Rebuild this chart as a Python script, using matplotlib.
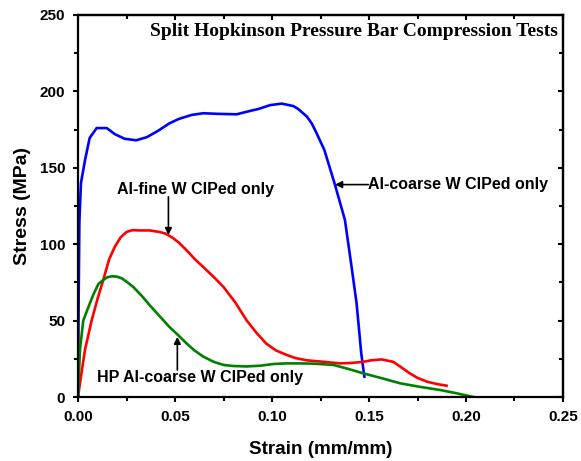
import matplotlib
matplotlib.use("Agg")
import matplotlib.pyplot as plt
from matplotlib.ticker import MultipleLocator

# Al-coarse W CIPed only (blue)
blue_strain = [0.0, 0.0003, 0.0007, 0.0015, 0.0036, 0.006, 0.0096, 0.0148, 0.019, 0.024,
               0.030, 0.0354, 0.041, 0.047, 0.052, 0.0586, 0.0646, 0.072, 0.0818, 0.087,
               0.093, 0.099, 0.105, 0.111, 0.1135, 0.118, 0.1205, 0.123, 0.127, 0.1325,
               0.1376, 0.141, 0.1436, 0.146, 0.1476]
blue_stress = [0, 60, 115, 140, 155, 169.5, 176, 176, 172, 169,
               168, 170, 174, 179, 182, 184.6, 185.7, 185.3, 185, 186.7,
               188.5, 191, 192, 190.4, 188.5, 183.5, 179, 172.6, 161.6, 138.7,
               115.8, 85.3, 61.3, 28.6, 13.3]

# Al-fine W CIPed only (red)
red_strain = [0.0, 0.001, 0.0036, 0.007, 0.010, 0.013, 0.016, 0.019, 0.022, 0.025,
              0.028, 0.032, 0.037, 0.042, 0.045, 0.049, 0.052, 0.056, 0.060, 0.0646,
              0.070, 0.075, 0.081, 0.087, 0.092, 0.097, 0.102, 0.1076, 0.112, 0.118,
              0.127, 0.135, 0.141, 0.147, 0.151, 0.1565, 0.1625, 0.166, 0.171, 0.175,
              0.18, 0.185, 0.19]
red_stress = [0, 9, 31, 50, 64, 76.6, 90, 98.4, 104.5, 108,
              109.2, 109, 109, 108, 107, 104, 101, 96, 90.5, 85,
              78.5, 72, 62, 50, 42, 35, 30.5, 27.5, 25.5, 24,
              23, 22, 22.3, 23, 24, 24.6, 23, 20, 15.5, 12.5,
              10, 8.5, 7.4]

# HP Al-coarse W CIPed only (green)
green_strain = [0.0, 0.001, 0.0027, 0.006, 0.0079, 0.0105, 0.013, 0.015, 0.0174, 0.020,
                0.0225, 0.025, 0.0285, 0.033, 0.037, 0.042, 0.047, 0.052, 0.056, 0.060,
                0.0646, 0.070, 0.075, 0.080, 0.087, 0.094, 0.1007, 0.107, 0.1144, 0.122,
                0.1316, 0.139, 0.147, 0.156, 0.166, 0.176, 0.1866, 0.195, 0.2038]
green_stress = [0, 31, 50, 61, 67, 74, 76.6, 78.3, 79, 78.8,
                77.7, 75.5, 72, 66, 60, 53, 46, 40, 35, 30.5,
                26.4, 23, 21, 20.3, 20, 20.5, 21.6, 22, 22, 21.8,
                21, 18.5, 15.5, 12.5, 9, 6.7, 4.6, 2.5, 0]

sans = "Liberation Sans"

fig = plt.figure(figsize=(5.81, 4.61), dpi=100)
ax = fig.add_axes([0.1343, 0.1388, 0.8347, 0.8287])

ax.plot(blue_strain, blue_stress, color="#0000ff", lw=1.9)
ax.plot(red_strain, red_stress, color="#ff0000", lw=1.9)
ax.plot(green_strain, green_stress, color="#008000", lw=1.9)

ax.set_xlim(0, 0.25)
ax.set_ylim(0, 250)
ax.xaxis.set_major_locator(MultipleLocator(0.05))
ax.xaxis.set_minor_locator(MultipleLocator(0.025))
ax.yaxis.set_major_locator(MultipleLocator(50))
ax.yaxis.set_minor_locator(MultipleLocator(25))
# bottom/left ticks point out, top/right ticks point in (Origin style)
ax.tick_params(which="both", direction="out", width=1.5)
ax.tick_params(which="major", length=3.8, pad=5.5)
ax.tick_params(which="minor", length=2.6)
ax.set_xticklabels([f"{v:.2f}" for v in ax.get_xticks()], fontfamily=sans,
                   fontweight="bold", fontsize=11)
ax.set_yticklabels([f"{int(v)}" for v in ax.get_yticks()], fontfamily=sans,
                   fontweight="bold", fontsize=11)

top = ax.secondary_xaxis("top")
top.xaxis.set_major_locator(MultipleLocator(0.05))
top.xaxis.set_minor_locator(MultipleLocator(0.025))
top.tick_params(which="both", direction="in", width=1.5, labeltop=False)
top.tick_params(which="major", length=3.8)
top.tick_params(which="minor", length=2.6)
right = ax.secondary_yaxis("right")
right.yaxis.set_major_locator(MultipleLocator(50))
right.yaxis.set_minor_locator(MultipleLocator(25))
right.tick_params(which="both", direction="in", width=1.5, labelright=False)
right.tick_params(which="major", length=3.8)
right.tick_params(which="minor", length=2.6)

for s in list(ax.spines.values()) + [top.spines["top"], right.spines["right"]]:
    s.set_linewidth(1.6)

ax.set_xlabel("Strain (mm/mm)", fontfamily=sans, fontweight="bold", fontsize=13.6, labelpad=12)
ax.set_ylabel("Stress (MPa)", fontfamily=sans, fontweight="bold", fontsize=14, labelpad=6)

ax.text(0.2474, 239.5, "Split Hopkinson Pressure Bar Compression Tests",
        fontfamily="Liberation Serif", fontweight="bold", fontsize=14,
        ha="right", va="center")

# annotation labels and arrows
lbl = dict(fontfamily=sans, fontweight="bold", fontsize=11.5, va="center")
arrow = dict(arrowstyle="-|>", color="black", lw=1.2, mutation_scale=10,
             shrinkA=0, shrinkB=0)

ax.text(0.0607, 136, "Al-fine W CIPed only", ha="center", **lbl)
ax.annotate("", xy=(0.0466, 106), xytext=(0.0466, 131), arrowprops=arrow)

ax.text(0.1497, 139, "Al-coarse W CIPed only", ha="left", **lbl)
ax.annotate("", xy=(0.1325, 139), xytext=(0.1497, 139), arrowprops=arrow)

ax.text(0.063, 13, "HP Al-coarse W CIPed only", ha="center", **lbl)
ax.annotate("", xy=(0.0512, 39.4), xytext=(0.0512, 17.7), arrowprops=arrow)

fig.savefig("out.png", dpi=100)
